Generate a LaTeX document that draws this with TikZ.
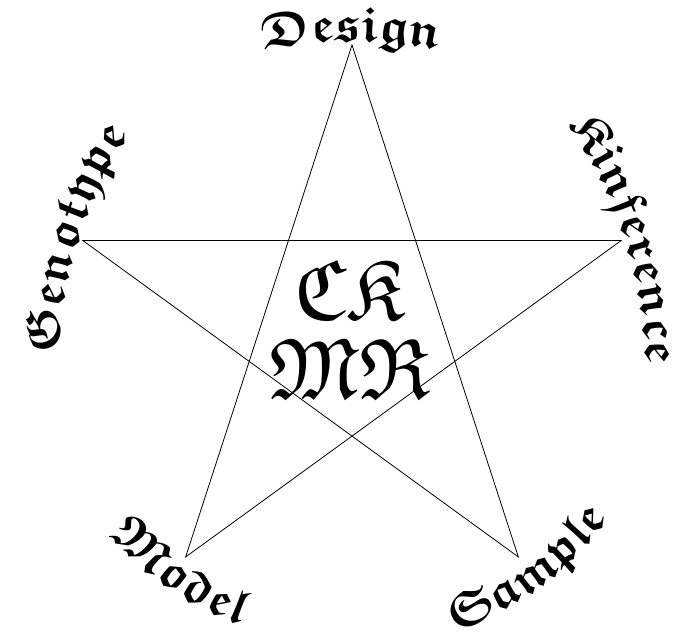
\documentclass[tikz,border=0pt]{standalone}
\usetikzlibrary{decorations.text}
\IfFileExists{ygoth.tfm}
  {\font\starfont=ygoth at 48pt \font\ckmrfont=ygoth at 84pt}
  {\font\starfont=eufb10 at 50pt \font\ckmrfont=eufm10 at 86pt}
\tikzset{
  glabel/.style={decorate,decoration={text along path,text={|\starfont|#1},text align=center}}
}
\begin{document}
\begin{tikzpicture}[x=1bp,y=1bp]
  \useasboundingbox (0,0) rectangle (679,639);
  \coordinate (O) at (352,311);
  \foreach \n/\a in {top/90,left/162,bl/234,br/306,right/18}
    \coordinate (\n) at ([shift={(\a:283)}]O);
  \draw[line width=0.8pt] (top) -- (bl) -- (right) -- (left) -- (br) -- cycle;
  % upper labels on flatter arcs, touching the points
  \path[glabel=Design] ([shift={(90:-150)}]O) ++(116:437) arc[start angle=116,end angle=64,radius=437];
  \path[glabel=Genotype] ([shift={(162:-150)}]O) ++(212:437) arc[start angle=212,end angle=112,radius=437];
  \path[glabel=Kinference] ([shift={(18:-150)}]O) ++(68:437) arc[start angle=68,end angle=-32,radius=437];
  % lower labels
  \path[glabel=Model] ([shift={(195:318)}]O) arc[start angle=195,end angle=275,radius=318];
  \path[glabel=Sample] ([shift={(266:320)}]O) arc[start angle=266,end angle=346,radius=320];
  % centre
  \node (ck) at (349,349) {\ckmrfont CK};
  \node (mr) at (350,270) {\ckmrfont MR};
\end{tikzpicture}
\end{document}
